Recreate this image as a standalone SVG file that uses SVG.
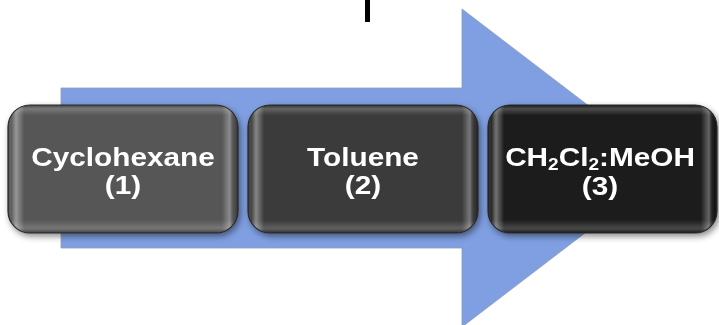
<svg xmlns="http://www.w3.org/2000/svg" width="719" height="325" viewBox="0 0 719 325">
  <style>
    .lbl { font-family: "Liberation Sans", Arial, Helvetica, sans-serif; font-weight: bold; font-size: 25px; fill: #ffffff; text-anchor: middle; }
    .sub { font-size: 16px; }
    .box-edge { fill: none; stroke: #2a2a2a; stroke-width: 1.2; }
  </style>
  <defs>
    <!-- side bevel highlights -->
    <linearGradient id="bevelH" x1="0" y1="0" x2="1" y2="0">
      <stop offset="0" stop-color="#000" stop-opacity="0.35"/>
      <stop offset="0.015" stop-color="#fff" stop-opacity="0.05"/>
      <stop offset="0.035" stop-color="#fff" stop-opacity="0.38"/>
      <stop offset="0.07" stop-color="#fff" stop-opacity="0"/>
      <stop offset="0.93" stop-color="#fff" stop-opacity="0"/>
      <stop offset="0.965" stop-color="#fff" stop-opacity="0.32"/>
      <stop offset="0.985" stop-color="#000" stop-opacity="0.1"/>
      <stop offset="1" stop-color="#000" stop-opacity="0.4"/>
    </linearGradient>
    <!-- top/bottom bevel highlights -->
    <linearGradient id="bevelV" x1="0" y1="0" x2="0" y2="1">
      <stop offset="0" stop-color="#000" stop-opacity="0.25"/>
      <stop offset="0.03" stop-color="#fff" stop-opacity="0.2"/>
      <stop offset="0.08" stop-color="#fff" stop-opacity="0"/>
      <stop offset="0.9" stop-color="#fff" stop-opacity="0"/>
      <stop offset="0.96" stop-color="#fff" stop-opacity="0.18"/>
      <stop offset="1" stop-color="#000" stop-opacity="0.35"/>
    </linearGradient>
    <filter id="shadow" x="-10%" y="-10%" width="125%" height="130%">
      <feDropShadow dx="2" dy="3" stdDeviation="3" flood-color="#000" flood-opacity="0.45"/>
    </filter>
  </defs>

  <rect width="719" height="325" fill="#ffffff"/>

  <!-- fragment of a cropped heading at the top edge -->
  <rect x="365" y="0" width="5" height="22" fill="#000000"/>

  <!-- process arrow behind the steps -->
  <g id="connectors">
    <polygon points="61,88 462,88 462,9 670,168 462,327 462,248 61,248" fill="#7f9fe2" stroke="#8e9cb8" stroke-width="0.8"/>
  </g>

  <g id="step1" filter="url(#shadow)">
    <rect x="8" y="105" width="230" height="128" rx="22" fill="#575757"/>
    <rect x="8" y="105" width="230" height="128" rx="22" fill="url(#bevelH)"/>
    <rect x="8" y="105" width="230" height="128" rx="22" fill="url(#bevelV)"/>
    <rect x="8" y="105" width="230" height="128" rx="22" class="box-edge"/>
    <g transform="translate(123 0) scale(1.19 1)">
      <text class="lbl" x="0" y="166">Cyclohexane</text>
      <text class="lbl" x="0" y="194">(1)</text>
    </g>
  </g>

  <g id="step2" filter="url(#shadow)">
    <rect x="248" y="105" width="230" height="128" rx="22" fill="#3b3b3b"/>
    <rect x="248" y="105" width="230" height="128" rx="22" fill="url(#bevelH)"/>
    <rect x="248" y="105" width="230" height="128" rx="22" fill="url(#bevelV)"/>
    <rect x="248" y="105" width="230" height="128" rx="22" class="box-edge"/>
    <g transform="translate(363 0) scale(1.19 1)">
      <text class="lbl" x="0" y="166">Toluene</text>
      <text class="lbl" x="0" y="194">(2)</text>
    </g>
  </g>

  <g id="step3" filter="url(#shadow)">
    <rect x="488" y="105" width="229" height="128" rx="22" fill="#1e1e1e"/>
    <rect x="488" y="105" width="229" height="128" rx="22" fill="url(#bevelH)"/>
    <rect x="488" y="105" width="229" height="128" rx="22" fill="url(#bevelV)"/>
    <rect x="488" y="105" width="229" height="128" rx="22" class="box-edge"/>
    <g transform="translate(600 0) scale(1.19 1)">
      <text class="lbl" x="0" y="166">CH<tspan class="sub" dy="4">2</tspan><tspan dy="-4">Cl</tspan><tspan class="sub" dy="4">2</tspan><tspan dy="-4">:MeOH</tspan></text>
      <text class="lbl" x="0" y="195">(3)</text>
    </g>
  </g>
</svg>
